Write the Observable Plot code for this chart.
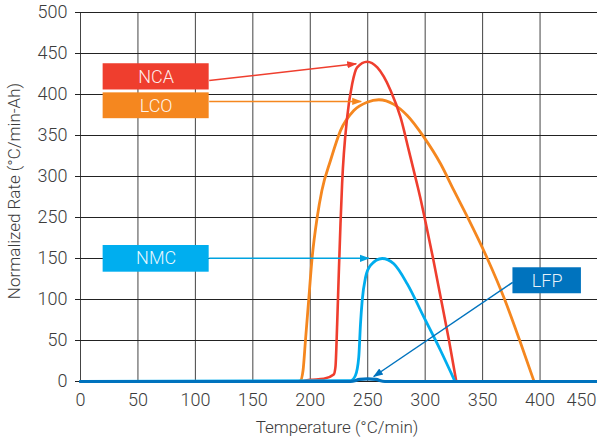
<!DOCTYPE html>
<html><head><meta charset="utf-8">
<script src="https://cdn.jsdelivr.net/npm/d3@7"></script>
<script src="https://cdn.jsdelivr.net/npm/@observablehq/plot@0.6"></script>
<style>body{margin:0;background:#fff}</style>
</head><body><div id="chart"></div>
<script>
const xTicks = [0, 50, 100, 150, 200, 250, 300, 350, 400, 450];
// the original axis skips "200": ten evenly spaced gridlines
const yTicks = [0, 50, 100, 150, 250, 300, 350, 400, 450, 500];

const ncaTemp = [0, 190, 200, 211.7, 220.4, 221.9, 223.4, 224.8, 226.3, 227.7, 232.1, 236.5, 240.8, 249.5, 258.3, 269.9, 278.6, 285.8, 292.9, 296.3, 299.5, 306.9, 313.9, 320.8, 327.1];
const ncaRate = [0, 0, 2, 3.3, 8.5, 17.5, 70, 131, 235, 291, 372, 413, 433, 440, 433, 405, 372, 331.6, 291, 270.7, 250, 150, 99.6, 49.6, 0];

const lcoTemp = [0, 188, 191.4, 193.7, 195.8, 198.6, 201.6, 206, 210.1, 217.6, 226.3, 237.9, 249.5, 259.7, 272.7, 284.4, 298.9, 313.4, 325, 337, 354.1, 369.2, 382.3, 394.8];
const lcoRate = [0, 0, 1, 13.4, 50, 99, 151.5, 250, 283, 319.5, 356, 380.5, 390.6, 393.6, 388, 374.4, 348, 315.5, 283, 250, 150, 100, 50, 0];

const nmcTemp = [0, 235, 239.3, 242.2, 243.7, 245.2, 248.1, 252.4, 262.6, 272.7, 284.4, 298.9, 313.4, 326];
const nmcRate = [0, 1, 7.3, 29.6, 70, 99, 127, 141.5, 150, 143.5, 119, 78.4, 37.8, 0];

const lfpTemp = [0, 235, 243, 250, 257, 265, 450];
const lfpRate = [0, 0, 2.5, 3.2, 2.5, 0, 0];

const seriesNames = ["LCO", "NCA", "NMC", "LFP"];
const seriesColors = ["#F5871F", "#EF3E2E", "#00ADEE", "#0073BE"];
const seriesWidths = [2.8, 2.6, 2.8, 3.2];
const seriesTemps = [lcoTemp, ncaTemp, nmcTemp, lfpTemp];
const seriesRates = [lcoRate, ncaRate, nmcRate, lfpRate];

const labelNames = ["NCA", "LCO", "NMC", "LFP"];
const labelColors = ["#EF3E2E", "#F5871F", "#00AEEF", "#0073BE"];
const labelX1 = [19.7, 19.7, 19.7, 376.4];
const labelX2 = [112, 112, 112, 436];
const labelY1 = [405.5, 370.5, 133.3, 107];
const labelY2 = [437.5, 402, 181.7, 138.7];
const labelTextY = [421.5, 386, 150, 122.8];

const arrowFromX = [112, 112, 112, 376.2];
const arrowFromY = [417, 391.5, 150.4, 121];
const arrowToX = [240, 244.3, 251, 255.3];
const arrowToY = [437.5, 391.5, 150.4, 6.1];
const arrowColors = ["#EF3E2E", "#F5871F", "#00A3E0", "#0073BE"];

// The source's y axis is evenly spaced over the tick labels above (200 is skipped),
// so rates are mapped to tick-index position piecewise-linearly.
const yPos = d3.scaleLinear(yTicks, d3.range(yTicks.length));

const lines = seriesNames.flatMap((name, i) =>
  seriesTemps[i].map((t, j) => ({name, t, r: seriesRates[i][j]})));
const boxes = labelNames.map((name, i) => ({
  name, color: labelColors[i], x1: labelX1[i], x2: labelX2[i], y1: labelY1[i], y2: labelY2[i],
  tx: (labelX1[i] + labelX2[i]) / 2, ty: labelTextY[i]
}));
const arrows = labelNames.map((name, i) => ({
  name, color: arrowColors[i], x1: arrowFromX[i], y1: arrowFromY[i], x2: arrowToX[i], y2: arrowToY[i]
}));

function tri(color) {
  const m = d3.create("svg:marker")
    .attr("viewBox", "-5 -5 10 10")
    .attr("markerWidth", 6.67).attr("markerHeight", 6.67)
    .attr("orient", "auto").attr("refX", 4)
    .attr("fill", color).attr("stroke", "none");
  m.append("path").attr("d", "M-5,-3.6L5,0L-5,3.6Z");
  return m.node();
}

const font = "Roboto, 'Helvetica Neue', Arial, sans-serif";
const tickIdx = d3.range(yTicks.length);
const chart = Plot.plot({
  width: 597, height: 440,
  marginLeft: 80, marginRight: 0, marginTop: 12, marginBottom: 59,
  style: {fontFamily: font, fontWeight: 300, background: "#fff", color: "#3c3c3c"},
  x: {domain: [0, 450]},
  y: {domain: [0, yTicks.length - 1]},
  marks: [
    Plot.gridX(xTicks, {stroke: "#444", strokeOpacity: 1, strokeWidth: 1}),
    Plot.gridY(tickIdx, {stroke: "#222", strokeOpacity: 1, strokeWidth: 1}),
    Plot.axisY(tickIdx, {tickSize: 5, tickPadding: 8, fontSize: 18, stroke: "#222", fill: "#3c3c3c", label: null, tickFormat: i => yTicks[i]}),
    Plot.axisX(xTicks.slice(0, -1), {tickSize: 0, tickPadding: 12, fontSize: 18, fill: "#3c3c3c", label: null}),
    Plot.axisX(xTicks.slice(-1), {tickSize: 0, tickPadding: 12, fontSize: 18, fill: "#3c3c3c", textAnchor: "end", dx: -1, label: null}),
    Plot.text(["Temperature (°C/min)"], {frameAnchor: "bottom", dy: 51, dx: -2, fontSize: 17, fill: "#3c3c3c"}),
    Plot.text(["Normalized Rate (°C/min-Ah)"], {frameAnchor: "left", textAnchor: "middle", rotate: -90, dx: -66, dy: -6, fontSize: 17, fill: "#3c3c3c"}),
    ...seriesNames.map((name, i) =>
      Plot.line(lines.filter(d => d.name === name), {x: "t", y: d => yPos(d.r), stroke: seriesColors[i], strokeWidth: seriesWidths[i], curve: "monotone-x"})),
    Plot.rect(boxes, {x1: "x1", x2: "x2", y1: d => yPos(d.y1), y2: d => yPos(d.y2), fill: "color"}),
    Plot.text(boxes, {x: "tx", y: d => yPos(d.ty), text: "name", fill: "#fff", fillOpacity: 0.92, fontSize: 18}),
    Plot.link(arrows, {x1: "x1", y1: d => yPos(d.y1), x2: "x2", y2: d => yPos(d.y2), stroke: "color", strokeWidth: 1.5, markerEnd: tri})
  ]
});
document.getElementById("chart").appendChild(chart);
</script>
</body></html>
